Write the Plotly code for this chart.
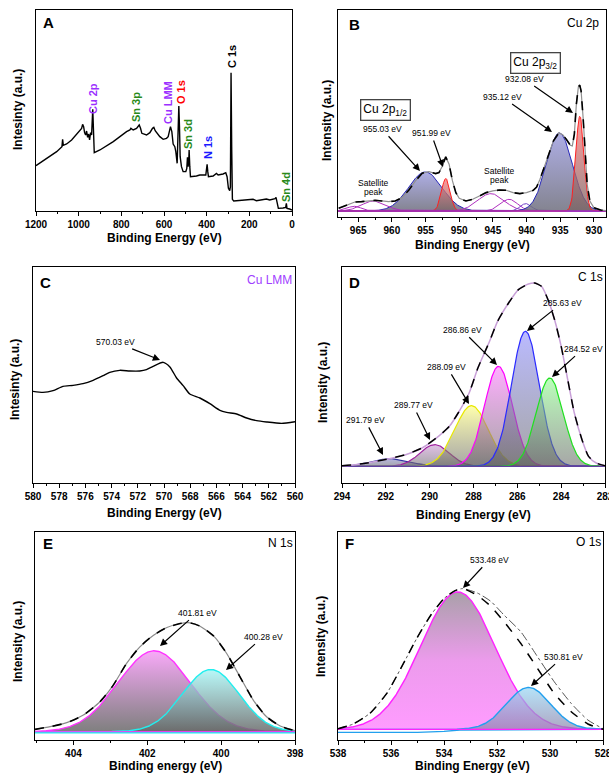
import numpy as np
import plotly.graph_objects as go

W, H = 609, 775
FONT = "Liberation Sans"

# ---------------- Panel A : survey spectrum ----------------
survey_be = [1200, 1165.7, 1134.5, 1103.2, 1078.3, 1075.2, 1072.0, 1056.4, 1033.0, 1012.7,
             1001.8, 994.0, 986.2, 981.5, 976.8, 972.2, 967.5, 962.8, 958.1, 953.4,
             948.8, 944.1, 939.4, 934.0, 931.6, 926.9, 900.4, 837.8, 775.5, 759.9,
             755.3, 744.3, 728.7, 716.2, 710.0, 703.8, 681.9, 666.3, 653.8, 647.6,
             641.3, 632.0, 619.5, 603.9, 588.3, 580.5, 575.8, 569.6, 563.3, 557.1,
             549.3, 544.6, 538.3, 533.7, 530.5, 527.4, 524.3, 518.1, 510.3, 497.8,
             493.1, 490.0, 486.9, 483.7, 482.2, 479.1, 475.9, 447.8, 432.2, 404.1,
             401.0, 397.9, 394.8, 391.7, 369.8, 354.2, 346.4, 323.0, 310.5, 304.3,
             298.1, 291.9, 288.8, 285.7, 282.5, 279.4, 273.2, 245.1, 198.2, 182.6,
             166.9, 135.7, 120.1, 104.5, 88.9, 79.6, 74.9, 70.2, 64.0, 42.1,
             29.6, 26.5, 23.4, 10.9, 0]
survey_int = [136, 151, 163, 178, 193, 215, 197, 201, 213, 228,
              238, 241, 248, 260, 253, 235, 228, 240, 221, 231,
              213, 235, 228, 305, 243, 175, 183, 208, 238, 243,
              248, 243, 248, 258, 248, 233, 228, 235, 248, 251,
              241, 233, 223, 215, 218, 223, 238, 253, 238, 201,
              193, 178, 143, 233, 315, 253, 163, 133, 118, 118,
              128, 161, 133, 153, 183, 133, 103, 105, 108, 108,
              123, 140, 118, 103, 105, 113, 108, 111, 115, 103,
              68, 61, 73, 415, 183, 35, 30, 31, 33, 35,
              31, 35, 36, 33, 35, 37, 41, 23, 8, 9,
              11, 23, 8, 6, 3]
survey_labels = ["Cu 2p", "Sn 3p", "Cu LMM", "O 1s", "Sn 3d", "N 1s", "C 1s", "Sn 4d"]
survey_label_colors = ["#9b30ff", "#2a8a1a", "#9b30ff", "#ff0000", "#2a8a1a", "#1a1aff", "#000000", "#2a8a1a"]
survey_label_pos = [(93, 99), (136, 107), (168, 103), (181, 92), (188, 134), (208, 148), (232, 57), (286, 187)]

# ---------------- Panel B : Cu 2p ----------------
cu2p_env_be = [967.9, 966.5, 965.5, 964.5, 963.5, 962.5, 961.5, 960.5, 959.5, 958.5,
               957.5, 956.5, 955.5, 954.5, 953.5, 953.0, 952.5, 952.0, 951.5, 951.0,
               950.5, 950.0, 949.0, 948.0, 947.0, 946.0, 945.0, 944.0, 943.0, 942.0,
               941.0, 940.0, 939.0, 938.5, 938.0, 937.0, 936.0, 935.2, 934.6, 934.0,
               933.5, 933.2, 932.9, 932.6, 932.3, 932.1, 931.9, 931.6, 931.3, 931.0,
               930.6, 930.0, 929.0, 928.2]
cu2p_env_int = [8, 18, 27, 28, 30, 32, 30, 28, 30, 40,
                62, 90, 113, 118, 112, 115, 135, 162, 140, 90,
                55, 38, 30, 35, 45, 55, 60, 63, 62, 55,
                52, 55, 62, 72, 95, 150, 210, 234, 228, 212,
                197, 195, 230, 320, 372, 377, 360, 280, 170, 80,
                30, 10, 3, 1]
cu2p_centers = [955.03, 951.99, 965.6, 962.7, 945.3, 942.6, 940.1, 935.12, 932.08]
cu2p_heights = [117, 97, 14, 30, 52, 35, 22, 234, 284]
cu2p_fwhm = [5.8, 1.5, 2.5, 4.2, 4.6, 3.0, 2.0, 4.5, 1.4]
cu2p_kind = ["blue", "red", "sat", "sat", "sat", "sat", "sat2", "blue", "red"]
cu2p_peak_labels = ["932.08 eV", "935.12 eV", "955.03 eV", "951.99 eV"]

# ---------------- Panel C : Cu LMM ----------------
lmm_be = [580.0, 579.24, 578.47, 577.71, 576.94, 576.18, 575.41, 574.65, 574.14, 573.38,
          572.61, 571.85, 571.34, 570.83, 570.06, 569.55, 569.04, 568.54, 568.03, 567.26,
          566.50, 565.73, 565.22, 564.46, 563.69, 562.93, 562.17, 561.02, 560.0]
lmm_int = [275, 272, 277, 290, 293, 298, 308, 322, 332, 338,
           336, 336, 340, 350, 362, 348, 315, 292, 267, 255,
           238, 218, 212, 207, 195, 187, 183, 179, 184]

# ---------------- Panel D : C 1s ----------------
c1s_env_be = [294.0, 293.4, 292.6, 291.9, 291.1, 290.35, 289.6, 289.1, 288.7, 288.2,
              287.8, 287.3, 286.9, 286.4, 285.95, 285.5, 285.2, 284.9, 284.6, 284.3,
              284.0, 283.7, 283.4, 283.05, 282.75, 282.4, 282.0]
c1s_env_int = [2, 5, 13, 22, 35, 55, 90, 120, 160, 220,
               295, 370, 435, 490, 530, 547, 550, 540, 500, 440,
               360, 260, 160, 80, 30, 10, 2]
c1s_centers = [291.79, 289.77, 288.09, 286.86, 285.63, 284.52]
c1s_heights = [23, 65, 182, 300, 405, 265]
c1s_fwhm = [2.0, 1.6, 1.8, 1.5, 1.5, 1.45]
c1s_lines = ["#3030a0", "#a020a0", "#e8e800", "#ff00ff", "#2a2aff", "#20e020"]
c1s_fills = ["rgba(120,120,200,0.55)", "rgba(200,140,210,0.55)", "rgba(255,255,120,0.6)",
             "rgba(255,120,255,0.6)", "rgba(140,140,255,0.6)", "rgba(140,255,140,0.6)"]
c1s_peak_labels = ["285.63 eV", "286.86 eV", "284.52 eV", "288.09 eV", "289.77 eV", "291.79 eV"]

# ---------------- Panel E : N 1s ----------------
n1s_env_be = [405.04, 404.63, 404.18, 403.73, 403.28, 402.92, 402.56, 402.2, 401.83, 401.47,
              401.11, 400.84, 400.57, 400.2, 399.85, 399.49, 399.13, 398.77, 398.4, 398.0]
n1s_env_int = [7, 15, 27, 50, 90, 140, 205, 255, 290, 313,
               325, 327, 317, 287, 235, 165, 95, 45, 17, 3]
n1s_centers = [401.81, 400.28]
n1s_heights = [243, 187]
n1s_fwhm = [2.3, 1.8]

# ---------------- Panel F : O 1s ----------------
o1s_env_be = [538.0, 537.43, 536.8, 536.16, 535.53, 535.03, 534.5, 534.0, 533.6, 533.3,
              532.75, 532.24, 531.73, 531.1, 530.47, 529.84, 529.2, 528.57, 528.0]
o1s_env_int = [2, 16, 48, 108, 198, 273, 343, 393, 416, 423,
               403, 370, 323, 258, 183, 108, 53, 16, 0]
o1s_fit_int = [2, 16, 48, 108, 198, 273, 343, 393, 416, 423,
               410, 385, 343, 293, 218, 143, 78, 28, 2]
o1s_centers = [533.48, 530.81]
o1s_heights = [413, 126]
o1s_fwhm = [3.3, 1.95]
o1s_cyan_base_be = [538.0, 535.0, 534.0, 533.4, 528.0]
o1s_cyan_base_int = [-9, -9, -6, -2, 0]

# ---------------- layout geometry (pixels) ----------------
panels = {
    "A": dict(box=(36, 292, 10, 211), xr=[1200, 0], yr=[0, 603], dtick=200, minor=100, tick0=0),
    "B": dict(box=(338, 606, 10, 217), xr=[968, 928.2], yr=[-18, 602], dtick=5, minor=2.5, tick0=930),
    "C": dict(box=(33, 295, 267, 483), xr=[580, 560], yr=[0, 648], dtick=2, minor=1, tick0=560),
    "D": dict(box=(342, 605, 267, 483), xr=[294, 282], yr=[-50, 598], dtick=2, minor=1, tick0=282),
    "E": dict(box=(35, 295, 532, 740), xr=[405.04, 398], yr=[-25, 600], dtick=2, minor=1, tick0=398),
    "F": dict(box=(338, 603, 532, 740), xr=[538, 528], yr=[-32, 593], dtick=2, minor=1, tick0=528),
}
order = ["A", "B", "C", "D", "E", "F"]


def px(x):
    return x / W


def py(y):
    return 1 - y / H


def gauss(x, c, h, w):
    return h * np.exp(-4 * np.log(2) * (x - c) ** 2 / w ** 2)


fig = go.Figure()
layout = {}
for i, k in enumerate(order):
    p = panels[k]
    l, r, t, b = p["box"]
    sfx = "" if i == 0 else str(i + 1)
    layout["xaxis" + sfx] = dict(
        domain=[px(l), px(r)], range=p["xr"], anchor="y" + sfx, automargin=False,
        showline=True, linecolor="black", linewidth=1, mirror=True,
        ticks="outside", ticklen=4, tickwidth=1, tickcolor="black",
        dtick=p["dtick"], tick0=p["tick0"], showgrid=False, zeroline=False,
        ticklabeloverflow="allow",
        tickfont=dict(family=FONT, size=10, color="black", weight="bold"),
        minor=dict(dtick=p["minor"], ticks="outside", ticklen=2, tickcolor="black", showgrid=False),
    )
    layout["yaxis" + sfx] = dict(
        domain=[py(b), py(t)], range=p["yr"], anchor="x" + sfx, automargin=False,
        showline=True, linecolor="black", linewidth=1, mirror=True,
        ticks="", showticklabels=False, showgrid=False, zeroline=False,
    )


def ax_ids(k):
    i = order.index(k)
    s = "" if i == 0 else str(i + 1)
    return "x" + s, "y" + s


# ---- A ----
xa, ya = ax_ids("A")
fig.add_trace(go.Scatter(x=survey_be, y=survey_int, mode="lines", xaxis=xa, yaxis=ya,
                         line=dict(color="black", width=1.4)))

# ---- B ----
xa, ya = ax_ids("B")
grid_b = np.linspace(928.2, 968, 600)
for c, h, w, kd in zip(cu2p_centers, cu2p_heights, cu2p_fwhm, cu2p_kind):
    y = gauss(grid_b, c, h, w)
    if kd == "blue":
        fig.add_trace(go.Scatter(x=grid_b, y=y, mode="lines", xaxis=xa, yaxis=ya, fill="tozeroy",
                                 line=dict(color="#2828b8", width=1),
                                 fillgradient=dict(type="vertical",
                                                   colorscale=[[0, "rgba(110,110,125,0.85)"], [1, "rgba(160,160,225,0.85)"]])))
    elif kd == "red":
        fig.add_trace(go.Scatter(x=grid_b, y=y, mode="lines", xaxis=xa, yaxis=ya, fill="tozeroy",
                                 line=dict(color="#ff2020", width=1),
                                 fillgradient=dict(type="vertical",
                                                   colorscale=[[0, "rgba(120,100,100,0.75)"], [1, "rgba(255,120,120,0.75)"]])))
    else:
        col = "#b030c0" if kd == "sat" else "#7040c8"
        fig.add_trace(go.Scatter(x=grid_b, y=y, mode="lines", xaxis=xa, yaxis=ya,
                                 line=dict(color=col, width=1)))
fig.add_trace(go.Scatter(x=[968, 928.2], y=[0, 0], mode="lines", xaxis=xa, yaxis=ya,
                         line=dict(color="#a030c0", width=1.5)))
fig.add_trace(go.Scatter(x=cu2p_env_be, y=cu2p_env_int, mode="lines", xaxis=xa, yaxis=ya,
                         line=dict(color="#909090", width=1.2)))
fig.add_trace(go.Scatter(x=cu2p_env_be, y=cu2p_env_int, mode="lines", xaxis=xa, yaxis=ya,
                         line=dict(color="black", width=1.6, dash="dash")))

# ---- C ----
xa, ya = ax_ids("C")
fig.add_trace(go.Scatter(x=lmm_be, y=lmm_int, mode="lines", xaxis=xa, yaxis=ya,
                         line=dict(color="black", width=1.4, shape="spline", smoothing=0.6)))

# ---- D ----
xa, ya = ax_ids("D")
grid_d = np.linspace(282, 294, 500)
for c, h, w, lc, fc in zip(c1s_centers, c1s_heights, c1s_fwhm, c1s_lines, c1s_fills):
    fig.add_trace(go.Scatter(x=grid_d, y=gauss(grid_d, c, h, w), mode="lines", xaxis=xa, yaxis=ya,
                             fill="tozeroy", line=dict(color=lc, width=1.2),
                             fillgradient=dict(type="vertical",
                                               colorscale=[[0, "rgba(95,95,95,0.55)"], [1, fc]])))
fig.add_trace(go.Scatter(x=[294, 282], y=[0, 0], mode="lines", xaxis=xa, yaxis=ya,
                         line=dict(color="#6040a0", width=1.2)))
fig.add_trace(go.Scatter(x=c1s_env_be, y=c1s_env_int, mode="lines", xaxis=xa, yaxis=ya,
                         line=dict(color="#c8a0d8", width=1.5, shape="spline", smoothing=0.6)))
fig.add_trace(go.Scatter(x=c1s_env_be, y=c1s_env_int, mode="lines", xaxis=xa, yaxis=ya,
                         line=dict(color="black", width=1.5, dash="dash", shape="spline", smoothing=0.6)))

# ---- E ----
xa, ya = ax_ids("E")
grid_e = np.linspace(398, 405.04, 400)
e_styles = [("#ff33ff", "rgba(248,160,248,0.9)"), ("#22eeee", "rgba(160,245,245,0.75)")]
for (c, h, w), (lc, fc) in zip(zip(n1s_centers, n1s_heights, n1s_fwhm), e_styles):
    fig.add_trace(go.Scatter(x=grid_e, y=gauss(grid_e, c, h, w), mode="lines", xaxis=xa, yaxis=ya,
                             fill="tozeroy", line=dict(color=lc, width=1.4),
                             fillgradient=dict(type="vertical",
                                               colorscale=[[0, "rgba(105,105,105,0.85)"], [1, fc]])))
fig.add_trace(go.Scatter(x=[405.04, 398], y=[-3, -3], mode="lines", xaxis=xa, yaxis=ya,
                         line=dict(color="#22eeee", width=1.4)))
fig.add_trace(go.Scatter(x=[405.04, 398], y=[0, 0], mode="lines", xaxis=xa, yaxis=ya,
                         line=dict(color="#ff33ff", width=1)))
fig.add_trace(go.Scatter(x=n1s_env_be, y=n1s_env_int, mode="lines", xaxis=xa, yaxis=ya,
                         line=dict(color="#8a8a8a", width=1.2, shape="spline", smoothing=0.6)))
fig.add_trace(go.Scatter(x=n1s_env_be, y=n1s_env_int, mode="lines", xaxis=xa, yaxis=ya,
                         line=dict(color="black", width=1.6, dash="dash", shape="spline", smoothing=0.6)))

# ---- F ----
xa, ya = ax_ids("F")
grid_f = np.linspace(528, 538, 400)
fig.add_trace(go.Scatter(x=grid_f, y=gauss(grid_f, o1s_centers[0], o1s_heights[0], o1s_fwhm[0]),
                         mode="lines", xaxis=xa, yaxis=ya, fill="tozeroy",
                         line=dict(color="#ff22ff", width=1.4),
                         fillgradient=dict(type="vertical",
                                           colorscale=[[0, "rgba(255,150,255,0.95)"], [0.5, "rgba(235,150,235,0.95)"],
                                                       [1, "rgba(165,155,165,0.95)"]])))
fig.add_trace(go.Scatter(x=grid_f, y=gauss(grid_f, o1s_centers[1], o1s_heights[1], o1s_fwhm[1]),
                         mode="lines", xaxis=xa, yaxis=ya, fill="tozeroy",
                         line=dict(color="#22a0ee", width=1.4),
                         fillgradient=dict(type="vertical",
                                           colorscale=[[0, "rgba(140,130,170,0.7)"], [1, "rgba(150,215,245,0.7)"]])))
fig.add_trace(go.Scatter(x=o1s_cyan_base_be, y=o1s_cyan_base_int, mode="lines", xaxis=xa, yaxis=ya,
                         line=dict(color="#22a0ee", width=1.4)))
fig.add_trace(go.Scatter(x=[538, 528], y=[0, 0], mode="lines", xaxis=xa, yaxis=ya,
                         line=dict(color="#ff22ff", width=1.4)))
fig.add_trace(go.Scatter(x=o1s_env_be, y=o1s_fit_int, mode="lines", xaxis=xa, yaxis=ya,
                         line=dict(color="#555555", width=1, dash="dashdot", shape="spline", smoothing=0.6)))
fig.add_trace(go.Scatter(x=o1s_env_be, y=o1s_env_int, mode="lines", xaxis=xa, yaxis=ya,
                         line=dict(color="black", width=1.5, dash="dash", shape="spline", smoothing=0.6)))

# ---------------- annotations ----------------
ann = []


def text(x, y, s, size=9, color="black", bold=False, angle=0, xanchor="center"):
    ann.append(dict(x=px(x), y=py(y), xref="paper", yref="paper", text=s, showarrow=False,
                    textangle=angle, xanchor=xanchor, yanchor="middle",
                    font=dict(family=FONT, size=size, color=color, weight="bold" if bold else "normal")))


def label_arrow(s, pos, head):
    # text label at pos, arrow from label towards head
    ann.append(dict(x=px(head[0]), y=py(head[1]), xref="paper", yref="paper", text=s,
                    showarrow=True, ax=pos[0] - head[0], ay=pos[1] - head[1], axref="pixel", ayref="pixel",
                    arrowhead=2, arrowsize=1.2, arrowwidth=1.2, arrowcolor="black", standoff=0,
                    startstandoff=1, font=dict(family=FONT, size=8.5, color="black")))


# panel letters
for lab, (x, y) in zip(order, [(48, 23), (354, 24), (45, 282), (354, 282), (48, 543), (349, 543)]):
    text(x, y, lab, size=15, bold=True)

# panel titles
text(583, 23, "Cu 2p", size=12)
text(269, 280, "Cu LMM", size=12, color="#a040ff")
text(590, 277, "C 1s", size=12)
text(280, 543, "N 1s", size=12)
text(588, 542, "O 1s", size=12)

# survey labels
for s, c, (x, y) in zip(survey_labels, survey_label_colors, survey_label_pos):
    text(x, y, s, size=11, bold=True, color=c, angle=-90)

# axis titles
text(164, 238, "Binding Energy (eV)", size=12, bold=True)
text(18, 110, "Intesinty (a.u.)", size=12, bold=True, angle=-90)
text(472, 245, "Binding Energy (eV)", size=12, bold=True)
text(327, 121, "Intensity (a.u.)", size=12, bold=True, angle=-90)
text(164, 513, "Binding Energy (eV)", size=12, bold=True)
text(15, 380, "Intesinty (a.u.)", size=12, bold=True, angle=-90)
text(473, 515, "Binding Energy (eV)", size=12, bold=True)
text(323, 383, "Intensity (a.u.)", size=12, bold=True, angle=-90)
text(165, 766, "Binding energy (eV)", size=12, bold=True)
text(18, 642, "Intensity (a.u.)", size=12, bold=True, angle=-90)
text(472, 766, "Binding Energy (eV)", size=12, bold=True)
text(321, 637, "Intensity (a.u.)", size=12, bold=True, angle=-90)

# Panel B boxes and labels
ann.append(dict(x=px(560.5), y=py(52), xref="paper", yref="paper", showarrow=False,
                text="Cu 2p<sub>3/2</sub>", bordercolor="#444", borderwidth=1.3, borderpad=2, bgcolor="white",
                yanchor="top", font=dict(family=FONT, size=12, color="black")))
ann.append(dict(x=px(410.5), y=py(99), xref="paper", yref="paper", showarrow=False,
                text="Cu 2p<sub>1/2</sub>", bordercolor="#444", borderwidth=1.3, borderpad=2, bgcolor="white",
                yanchor="top", font=dict(family=FONT, size=12, color="black")))
for s, pos, head in zip(cu2p_peak_labels, [(524, 79), (502, 97), (382, 129), (431, 133)],
                        [(573, 113), (552, 132), (420, 171), (443, 167)]):
    label_arrow(s, pos, head)
text(373, 183, "Satellite", size=8.5)
text(373, 192, "peak", size=8.5)
text(499, 171, "Satellite", size=8.5)
text(499, 180, "peak", size=8.5)

# Panel C
label_arrow("570.03 eV", (115, 342), (160, 360))

# Panel D
for s, pos, head in zip(c1s_peak_labels,
                        [(562, 303), (462, 330), (583, 349), (447, 367), (413, 405), (365, 420)],
                        [(527, 331), (497, 365), (552, 377), (469, 404), (430, 440), (383, 455)]):
    label_arrow(s, pos, head)

# Panel E
label_arrow("401.81 eV", (197, 613), (160, 646))
label_arrow("400.28 eV", (263, 637), (226, 670))

# Panel F
label_arrow("533.48 eV", (489, 560), (463, 588))
label_arrow("530.81 eV", (563, 657), (531, 686))

layout.update(dict(width=W, height=H, margin=dict(l=0, r=0, t=0, b=0, autoexpand=False), showlegend=False,
                   paper_bgcolor="white", plot_bgcolor="white", annotations=ann,
                   font=dict(family=FONT)))
fig.update_layout(**layout)
fig.write_html("out.html", config={"displayModeBar": False, "staticPlot": True},
               post_script="document.body.style.margin='0';document.body.style.padding='0';"
                           "document.body.style.overflow='hidden';window.dispatchEvent(new Event('resize'));")
